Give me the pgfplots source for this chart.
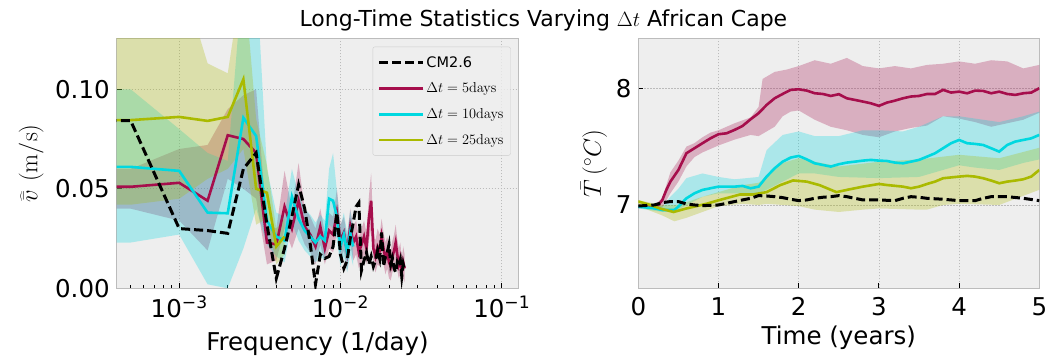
\documentclass[border=0pt]{standalone}
\usepackage[no-math]{fontspec}
\setmainfont{DejaVu Sans}
\usepackage{pgfplots}
\pgfplotsset{compat=1.18}
\definecolor{cred}{RGB}{166,14,76}
\definecolor{ccyan}{RGB}{0,216,224}
\definecolor{colive}{RGB}{170,186,0}
\definecolor{bgg}{HTML}{EEEEEE}
\definecolor{edg}{HTML}{BCBCBC}
\definecolor{grd}{HTML}{BBBBBB}
\definecolor{legedge}{HTML}{CCCCCC}
\newcommand{\bigfont}{\fontsize{24.5bp}{29bp}\selectfont}
\pgfplotsset{
  mystyle/.style={
    scale only axis,
    height=250bp,
    axis background/.style={fill=bgg},
    axis line style={draw=edg, line width=1.1bp},
    grid=major,
    major grid style={draw=grd, line width=0.7bp, dash pattern=on 1.6bp off 1.4bp},
    tick align=inside,
    tick pos=left,
    major tick length=5bp,
    minor tick length=3bp,
    tick style={black, line width=0.9bp},
    tick label style={font=\bigfont},
    label style={font=\bigfont},
    yticklabel style={anchor=east, inner sep=0bp, xshift=-6.7bp},
  },
  redl/.style={cred, line width=2.6bp},
  cyanl/.style={ccyan, line width=2.6bp},
  olivel/.style={colive, line width=2.6bp},
  blackl/.style={black, line width=3bp, dash pattern=on 9bp off 4bp},
}
\begin{document}
\begin{tikzpicture}
\path[use as bounding box] (0,0) rectangle (1049bp,358bp);
\node[anchor=base, font=\fontsize{22bp}{26bp}\selectfont] at (543.4bp,331.5bp) {Long-Time Statistics Varying $\Delta t$ African Cape};

%================ LEFT ================
\begin{axis}[mystyle,
  at={(116.6bp,69.7bp)}, anchor=south west, width=401.7bp,
  xmode=log, xmin=4.09e-4, xmax=0.1267, ymin=0, ymax=0.1256,
  xtick={0.001,0.01,0.1},
  xticklabels={10\textsuperscript{−3},10\textsuperscript{−2},10\textsuperscript{−1}},
  minor xtick={0.0004,0.0005,0.0006,0.0007,0.0008,0.0009,0.002,0.003,0.004,0.005,0.006,0.007,0.008,0.009,0.02,0.03,0.04,0.05,0.06,0.07,0.08,0.09},
  ytick={0,0.05,0.1}, yticklabels={0.00,0.05,0.10},
  xticklabel style={anchor=base, yshift=-28.7bp},
  xlabel={Frequency (1/day)},
  xlabel style={at={(axis description cs:0.5,-0.2476)}, anchor=base},
  ylabel={$\widehat{\bar{v}}\ (\mathrm{m/s})$},
  ylabel style={at={(axis description cs:-0.2124,0.5)}, anchor=center},
  legend style={at={(axis description cs:1,1)}, anchor=north east, xshift=-7.6bp, yshift=-8.4bp,
    fill=bgg, fill opacity=0.8, text opacity=1, draw=legedge, rounded corners=2bp,
    font=\fontsize{14.5bp}{17bp}\selectfont, inner xsep=5bp, inner ysep=7.5bp, row sep=10.3bp},
  legend cell align=left,
  legend image code/.code={\draw[#1] (0bp,0bp) -- (32bp,0bp); \path (0bp,0bp) -- (43.6bp,0bp);},
]
% bands
\addplot[forget plot, draw=none, fill=cred, fill opacity=0.28] coordinates {
(0.0003,0.060)(0.0005,0.060)(0.001,0.070)(0.0015,0.072)(0.002,0.090)(0.0025,0.097)(0.003,0.100)(0.0035,0.032)(0.004,0.030)(0.0045,0.059)(0.005,0.040)(0.0055,0.063)(0.006,0.040)(0.0065,0.036)(0.007,0.030)(0.0075,0.040)(0.008,0.028)(0.0085,0.038)(0.009,0.036)(0.0095,0.050)(0.01,0.032)(0.0105,0.036)(0.011,0.026)(0.0115,0.040)(0.012,0.031)(0.0125,0.034)(0.013,0.026)(0.0135,0.030)(0.014,0.034)(0.0145,0.028)(0.015,0.046)(0.0155,0.058)(0.016,0.028)(0.0165,0.024)(0.017,0.030)(0.0175,0.027)(0.018,0.035)(0.0185,0.028)(0.019,0.023)(0.0195,0.026)(0.02,0.021)(0.0205,0.019)(0.021,0.024)(0.0215,0.027)(0.022,0.032)(0.0225,0.025)(0.023,0.020)(0.0235,0.023)(0.024,0.015)(0.0245,0.021)(0.025,0.017)
(0.025,0.003)(0.0245,0.005)(0.024,0.002)(0.0235,0.007)(0.023,0.005)(0.0225,0.009)(0.022,0.014)(0.0215,0.011)(0.021,0.008)(0.0205,0.004)(0.02,0.005)(0.0195,0.010)(0.019,0.007)(0.0185,0.012)(0.018,0.017)(0.0175,0.011)(0.017,0.012)(0.0165,0.008)(0.016,0.012)(0.0155,0.030)(0.015,0.024)(0.0145,0.012)(0.014,0.017)(0.0135,0.013)(0.013,0.010)(0.0125,0.017)(0.012,0.014)(0.0115,0.022)(0.011,0.009)(0.0105,0.019)(0.01,0.014)(0.0095,0.028)(0.009,0.018)(0.0085,0.020)(0.008,0.012)(0.0075,0.022)(0.007,0.012)(0.0065,0.018)(0.006,0.022)(0.0055,0.030)(0.005,0.020)(0.0045,0.030)(0.004,0.014)(0.0035,0.012)(0.003,0.045)(0.0025,0.050)(0.002,0.055)(0.0015,0.019)(0.001,0.034)(0.0005,0.040)(0.0003,0.040)
};
\addplot[forget plot, draw=none, fill=ccyan, fill opacity=0.28] coordinates {
(0.0003,0.100)(0.0005,0.100)(0.001,0.080)(0.0015,0.068)(0.002,0.064)(0.0025,0.160)(0.003,0.160)(0.0035,0.060)(0.004,0.038)(0.0045,0.036)(0.005,0.060)(0.0055,0.047)(0.006,0.040)(0.0065,0.037)(0.007,0.033)(0.0075,0.037)(0.008,0.034)(0.0085,0.060)(0.009,0.068)(0.0095,0.049)(0.01,0.031)(0.0105,0.038)(0.011,0.028)(0.0115,0.039)(0.012,0.031)
(0.012,0.011)(0.0115,0.017)(0.011,0.008)(0.0105,0.016)(0.01,0.011)(0.0095,0.024)(0.009,0.030)(0.0085,0.032)(0.008,0.014)(0.0075,0.016)(0.007,0.013)(0.0065,0.016)(0.006,0.019)(0.0055,0.024)(0.005,0.033)(0.0045,0.013)(0.004,0.016)(0.0035,0.022)(0.003,0.040)(0.0025,0.020)(0.002,0.000)(0.0015,0.002)(0.001,0.027)(0.0005,0.023)(0.0003,0.023)
};
\addplot[forget plot, draw=none, fill=colive, fill opacity=0.28] coordinates {
(0.0003,0.160)(0.0005,0.160)(0.001,0.160)(0.0015,0.113)(0.002,0.108)(0.0025,0.160)(0.003,0.085)(0.0035,0.062)(0.004,0.030)(0.0045,0.035)
(0.0045,0.017)(0.004,0.012)(0.0035,0.035)(0.003,0.032)(0.0025,0.070)(0.002,0.060)(0.0015,0.055)(0.001,0.045)(0.0005,0.042)(0.0003,0.042)
};
% lines
\addplot[forget plot, redl] coordinates {
(0.0003,0.051)(0.0005,0.051)(0.001,0.053)(0.0015,0.044)(0.002,0.0769)(0.0025,0.075)(0.003,0.068)(0.0035,0.023)(0.004,0.022)(0.0045,0.041)(0.005,0.030)(0.0055,0.044)(0.006,0.031)(0.0065,0.027)(0.007,0.021)(0.0075,0.031)(0.008,0.020)(0.0085,0.029)(0.009,0.027)(0.0095,0.038)(0.01,0.024)(0.0105,0.028)(0.011,0.018)(0.0115,0.031)(0.012,0.023)(0.0125,0.026)(0.013,0.018)(0.0135,0.022)(0.014,0.026)(0.0145,0.020)(0.015,0.035)(0.0155,0.044)(0.016,0.020)(0.0165,0.016)(0.017,0.021)(0.0175,0.019)(0.018,0.026)(0.0185,0.020)(0.019,0.015)(0.0195,0.018)(0.02,0.013)(0.0205,0.011)(0.021,0.016)(0.0215,0.019)(0.022,0.023)(0.0225,0.017)(0.023,0.012)(0.0235,0.015)(0.024,0.008)(0.0245,0.013)(0.025,0.010)
};
\addplot[forget plot, cyanl] coordinates {
(0.0003,0.061)(0.0005,0.061)(0.001,0.059)(0.0015,0.038)(0.002,0.0377)(0.0025,0.0857)(0.003,0.0765)(0.0035,0.034)(0.004,0.026)(0.0045,0.024)(0.005,0.046)(0.0055,0.035)(0.006,0.029)(0.0065,0.026)(0.007,0.023)(0.0075,0.026)(0.008,0.024)(0.0085,0.045)(0.009,0.044)(0.0095,0.036)(0.01,0.021)(0.0105,0.027)(0.011,0.018)(0.0115,0.028)(0.012,0.021)
};
\addplot[forget plot, olivel] coordinates {
(0.0003,0.0845)(0.0005,0.0845)(0.001,0.0861)(0.0015,0.0841)(0.002,0.0861)(0.0025,0.105)(0.003,0.050)(0.0035,0.048)(0.004,0.021)(0.0045,0.026)
};
\addplot[forget plot, blackl] coordinates {
(0.0003,0.0842)(0.0005,0.0842)(0.001,0.030)(0.0015,0.029)(0.002,0.0276)(0.0025,0.060)(0.003,0.068)(0.0035,0.032)(0.004,0.005)(0.0045,0.020)(0.005,0.036)(0.0055,0.052)(0.006,0.040)(0.0065,0.022)(0.007,0.002)(0.0075,0.017)(0.008,0.015)(0.0085,0.016)(0.009,0.021)(0.0095,0.038)(0.01,0.017)(0.0105,0.010)(0.011,0.014)(0.0115,0.025)(0.012,0.033)(0.0125,0.041)(0.013,0.043)(0.0135,0.009)(0.014,0.014)(0.0145,0.018)(0.015,0.012)(0.0155,0.016)(0.016,0.011)(0.0165,0.014)(0.017,0.019)(0.0175,0.015)(0.018,0.028)(0.0185,0.011)(0.019,0.016)(0.0195,0.018)(0.02,0.022)(0.0205,0.012)(0.021,0.015)(0.0215,0.010)(0.022,0.008)(0.0225,0.013)(0.023,0.011)(0.0235,0.014)(0.024,0.006)(0.0245,0.012)(0.025,0.009)
};
\addlegendimage{blackl}\addlegendentry{CM2.6}
\addlegendimage{redl}\addlegendentry{$\Delta t=5\mathrm{days}$}
\addlegendimage{cyanl}\addlegendentry{$\Delta t=10\mathrm{days}$}
\addlegendimage{olivel}\addlegendentry{$\Delta t=25\mathrm{days}$}
\end{axis}

%================ RIGHT ================
\begin{axis}[mystyle,
  at={(638.3bp,69.7bp)}, anchor=south west, width=401bp,
  xmin=0, xmax=5, ymin=6.286, ymax=8.428,
  xtick={0,1,2,3,4,5}, xticklabels={0,1,2,3,4,5},
  ytick={7,8}, yticklabels={7,8},
  xticklabel style={anchor=base, yshift=-26.7bp},
  xlabel={Time (years)},
  xlabel style={at={(axis description cs:0.5,-0.2252)}, anchor=base},
  ylabel={$\bar{T}\,(^\circ C)$},
  ylabel style={at={(axis description cs:-0.1105,0.5)}, anchor=center},
]
\addplot[draw=none, fill=cred, fill opacity=0.28] coordinates {
(0,7.0)(0.2,7.0)(0.3,7.06)(0.4,7.28)(0.5,7.38)(0.6,7.50)(0.7,7.53)(0.8,7.58)(0.9,7.62)(1.0,7.64)(1.2,7.70)(1.4,7.75)(1.5,7.84)(1.55,8.08)(1.7,8.14)(1.85,8.16)(2.0,8.19)(2.2,8.24)(2.4,8.21)(2.6,8.26)(2.8,8.19)(3.0,8.17)(3.2,8.19)(3.4,8.17)(3.6,8.20)(3.8,8.21)(4.0,8.23)(4.2,8.21)(4.4,8.24)(4.6,8.23)(4.8,8.17)(5.0,8.20)
(5.0,7.79)(4.8,7.73)(4.6,7.70)(4.4,7.67)(4.2,7.71)(4.0,7.74)(3.8,7.76)(3.6,7.68)(3.4,7.66)(3.2,7.63)(3.0,7.58)(2.8,7.60)(2.6,7.64)(2.4,7.67)(2.2,7.73)(2.1,7.77)(2.0,7.81)(1.9,7.80)(1.8,7.76)(1.7,7.67)(1.6,7.63)(1.5,7.59)(1.4,7.60)(1.2,7.56)(1.0,7.51)(0.8,7.45)(0.7,7.41)(0.6,7.33)(0.5,7.20)(0.4,7.10)(0.3,6.98)(0.2,6.97)(0,6.97)
};
\addplot[draw=none, fill=ccyan, fill opacity=0.28] coordinates {
(0,7.0)(0.3,6.99)(0.4,7.07)(0.5,7.14)(0.6,7.23)(0.8,7.27)(1.0,7.24)(1.2,7.22)(1.5,7.24)(1.6,7.47)(1.8,7.60)(2.0,7.63)(2.2,7.59)(2.5,7.59)(2.8,7.64)(3.0,7.64)(3.3,7.63)(3.5,7.67)(3.8,7.76)(4.0,7.76)(4.2,7.74)(4.5,7.71)(4.8,7.76)(5.0,7.80)
(5.0,7.39)(4.8,7.36)(4.5,7.30)(4.2,7.32)(4.0,7.34)(3.8,7.30)(3.5,7.24)(3.0,7.23)(2.5,7.24)(2.2,7.27)(2.0,7.27)(1.8,7.20)(1.6,7.13)(1.5,7.10)(1.0,7.10)(0.8,7.07)(0.5,6.96)(0.3,6.94)(0,6.97)
};
\addplot[draw=none, fill=colive, fill opacity=0.28] coordinates {
(0,7.04)(0.3,7.0)(0.5,7.0)(0.8,7.07)(1.0,7.11)(1.3,7.17)(1.5,7.19)(1.6,7.24)(1.8,7.36)(2.0,7.40)(2.2,7.37)(2.5,7.33)(3.0,7.37)(3.5,7.39)(4.0,7.43)(4.5,7.40)(5.0,7.49)
(5.0,7.13)(4.5,7.0)(4.0,7.01)(3.8,7.0)(3.6,6.96)(3.5,6.96)(3.0,6.97)(2.8,6.96)(2.5,6.94)(2.2,6.96)(2.0,6.99)(1.8,7.0)(1.6,7.01)(1.5,7.0)(1.3,7.01)(1.0,6.99)(0.8,6.94)(0.6,6.89)(0.45,6.86)(0.3,6.91)(0,6.99)
};
\addplot[redl] coordinates {
(0,6.986)(0.1,6.991)(0.25,7.0)(0.3,7.043)(0.35,7.129)(0.4,7.2)(0.5,7.3)(0.6,7.443)(0.7,7.486)(0.8,7.529)(0.9,7.571)(1.0,7.606)(1.1,7.614)(1.2,7.643)(1.3,7.677)(1.4,7.734)(1.5,7.786)(1.6,7.857)(1.7,7.914)(1.8,7.951)(1.9,7.986)(2.0,7.991)(2.1,7.980)(2.2,7.957)(2.3,7.951)(2.4,7.934)(2.5,7.949)(2.6,7.914)(2.7,7.9)(2.8,7.886)(2.9,7.871)(3.0,7.849)(3.1,7.877)(3.2,7.894)(3.3,7.914)(3.4,7.929)(3.5,7.934)(3.6,7.951)(3.7,7.951)(3.8,7.986)(3.9,7.963)(4.0,7.971)(4.1,7.957)(4.2,7.980)(4.3,7.977)(4.4,7.957)(4.5,7.971)(4.6,7.951)(4.7,7.943)(4.8,7.957)(4.9,7.963)(5.0,8.0)
};
\addplot[cyanl] coordinates {
(0,6.986)(0.2,6.971)(0.3,6.957)(0.45,6.957)(0.5,6.986)(0.6,7.057)(0.7,7.1)(0.8,7.129)(0.9,7.143)(1.0,7.157)(1.1,7.157)(1.2,7.157)(1.3,7.163)(1.4,7.143)(1.5,7.157)(1.6,7.243)(1.7,7.314)(1.8,7.371)(1.9,7.406)(2.0,7.42)(2.1,7.391)(2.2,7.357)(2.3,7.343)(2.4,7.329)(2.5,7.349)(2.6,7.363)(2.7,7.371)(2.8,7.38)(2.9,7.386)(3.0,7.38)(3.1,7.377)(3.2,7.363)(3.3,7.357)(3.4,7.371)(3.5,7.386)(3.6,7.414)(3.7,7.443)(3.8,7.486)(3.9,7.529)(4.0,7.557)(4.1,7.529)(4.2,7.523)(4.3,7.514)(4.4,7.486)(4.5,7.457)(4.6,7.514)(4.7,7.543)(4.8,7.557)(4.9,7.571)(5.0,7.6)
};
\addplot[olivel] coordinates {
(0,7.03)(0.15,7.0)(0.27,6.97)(0.44,6.94)(0.6,6.97)(0.85,7.01)(1.0,7.04)(1.27,7.09)(1.43,7.09)(1.6,7.11)(1.77,7.17)(1.93,7.21)(2.1,7.2)(2.26,7.17)(2.47,7.11)(2.6,7.129)(2.8,7.157)(3.0,7.18)(3.1,7.171)(3.3,7.157)(3.4,7.143)(3.5,7.157)(3.6,7.18)(3.7,7.2)(3.8,7.229)(4.0,7.243)(4.1,7.249)(4.2,7.243)(4.3,7.229)(4.4,7.209)(4.5,7.186)(4.6,7.2)(4.7,7.209)(4.8,7.22)(4.9,7.243)(5.0,7.3)
};
\addplot[blackl] coordinates {
(0,6.991)(0.2,7.0)(0.3,7.02)(0.4,7.029)(0.5,7.029)(0.6,7.009)(0.7,7.0)(0.8,6.994)(1.0,7.0)(1.1,7.014)(1.2,7.029)(1.3,7.043)(1.4,7.057)(1.5,7.08)(1.6,7.077)(1.7,7.071)(1.8,7.063)(1.9,7.049)(2.0,7.037)(2.1,7.043)(2.2,7.057)(2.3,7.066)(2.4,7.071)(2.5,7.08)(2.6,7.071)(2.7,7.057)(2.8,7.043)(3.0,7.043)(3.2,7.037)(3.3,7.057)(3.4,7.071)(3.5,7.066)(3.6,7.057)(3.8,7.049)(4.0,7.037)(4.2,7.037)(4.3,7.057)(4.4,7.071)(4.6,7.071)(4.8,7.057)(5.0,7.037)
};
\end{axis}
\end{tikzpicture}
\end{document}
